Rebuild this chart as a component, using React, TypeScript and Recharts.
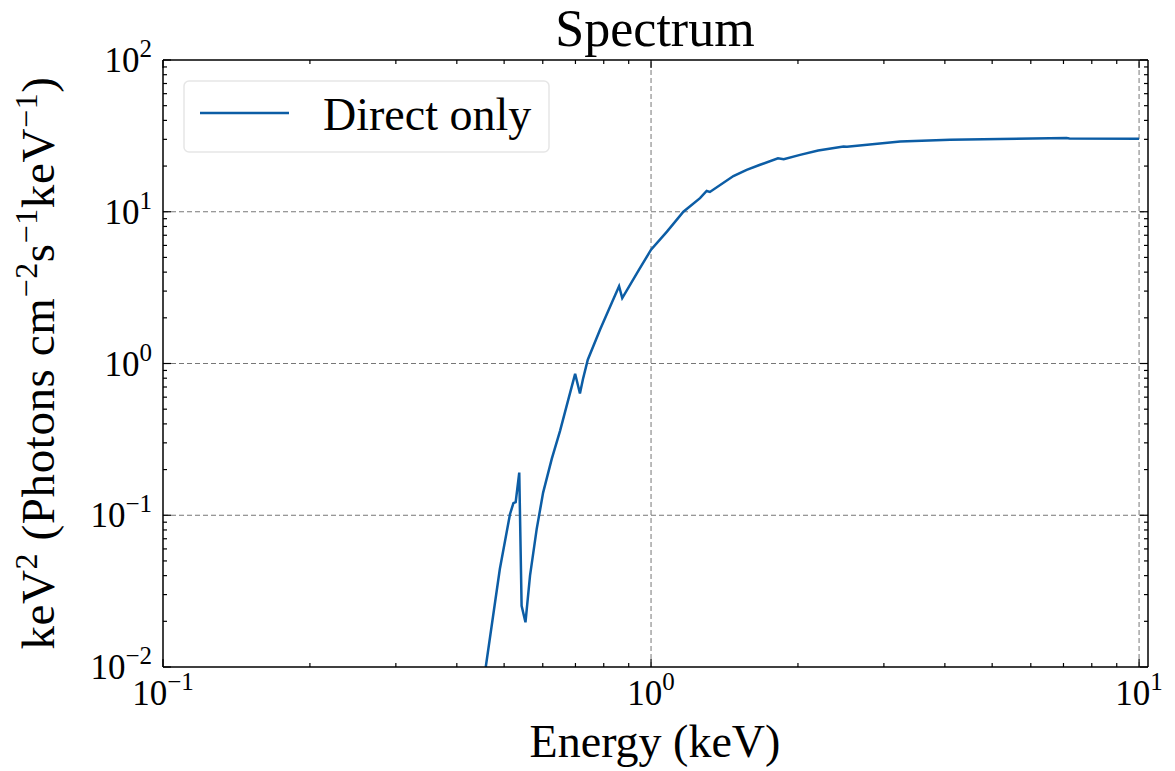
import { LineChart, Line, XAxis, YAxis, ReferenceLine } from "recharts";

// energy (keV) and keV^2 flux
const energies = [
  0.4585, 0.49, 0.514, 0.5224, 0.528, 0.537, 0.543, 0.553, 0.565, 0.583, 0.601, 0.626, 0.651,
  0.677, 0.699, 0.715, 0.725, 0.742, 0.786, 0.831, 0.86, 0.873, 0.945, 1.0, 1.078, 1.165, 1.26,
  1.3, 1.32, 1.475, 1.57, 1.673, 1.82, 1.87, 2.02, 2.2, 2.48, 2.52, 3.24, 4.1, 5.19, 7.1, 7.2,
  10.0,
];
const directOnly = [
  0.01, 0.0442, 0.1016, 0.12, 0.122, 0.191, 0.0253, 0.0197, 0.04, 0.081, 0.141, 0.235, 0.36,
  0.58, 0.855, 0.635, 0.785, 1.06, 1.67, 2.51, 3.23, 2.7, 4.15, 5.62, 7.4, 10.0, 12.3, 13.7,
  13.5, 17.2, 18.9, 20.4, 22.5, 22.2, 23.7, 25.3, 26.9, 26.8, 29.0, 29.8, 30.2, 30.6, 30.4,
  30.3,
];

const X_TICKS = [
  0.1, 0.2, 0.3, 0.4, 0.5, 0.6, 0.7, 0.8, 0.9, 1, 2, 3, 4, 5, 6, 7, 8, 9, 10,
];
const Y_TICKS = [
  0.01, 0.02, 0.03, 0.04, 0.05, 0.06, 0.07, 0.08, 0.09, 0.1, 0.2, 0.3, 0.4, 0.5, 0.6, 0.7, 0.8,
  0.9, 1, 2, 3, 4, 5, 6, 7, 8, 9, 10, 20, 30, 40, 50, 60, 70, 80, 90, 100,
];
const X_GRID = [1, 10];
const Y_GRID = [0.1, 1, 10];
const X_DOMAIN = [0.1, 10.43];
const Y_DOMAIN = [0.01, 100];

const data = energies.map((x, i) => ({ x, y: directOnly[i] }));

const FONT = "'Liberation Serif', 'Times New Roman', serif";
const BLUE = "#0C5DA5";
const W = 1175;
const H = 771;

function expOf(v: number) {
  const e = Math.log10(v);
  const r = Math.round(e);
  return Math.abs(e - r) < 1e-6 ? r : null;
}

function expText(e: number) {
  return e < 0 ? "\u2212" + Math.abs(e) : String(e);
}

function tickMark(props: any, side: "bottom" | "top" | "left" | "right") {
  const { x, y, payload } = props;
  const e = expOf(payload.value);
  const len = e !== null ? 8 : 4;
  let line;
  if (side === "bottom") line = <line x1={x} x2={x} y1={y} y2={y - len} />;
  else if (side === "top") line = <line x1={x} x2={x} y1={y} y2={y + len} />;
  else if (side === "left") line = <line x1={x} x2={x + len} y1={y} y2={y} />;
  else line = <line x1={x} x2={x - len} y1={y} y2={y} />;
  return (
    <g stroke="#000" strokeWidth={1.2}>
      {line}
      {e !== null && side === "bottom" && (
        <text x={x} y={y + 38} textAnchor="middle" fontSize={35} fontFamily={FONT} fill="#000" stroke="none">
          10<tspan dy={-15} fontSize={25}>{expText(e)}</tspan>
        </text>
      )}
      {e !== null && side === "left" && (
        <text x={x - 11} y={y + 12} textAnchor="end" fontSize={35} fontFamily={FONT} fill="#000" stroke="none">
          10<tspan dy={-15} fontSize={25}>{expText(e)}</tspan>
        </text>
      )}
    </g>
  );
}

const axisLine = { stroke: "#000", strokeWidth: 1.5 };

export default function App() {
  return (
    <div style={{ position: "absolute", left: 0, top: 0, width: W, height: H, background: "#fff" }}>
      <LineChart width={W} height={H} data={data} margin={{ top: 59, right: 26, bottom: 103, left: 162 }}>
        <XAxis
          dataKey="x"
          type="number"
          scale="log"
          domain={X_DOMAIN}
          allowDataOverflow
          ticks={X_TICKS}
          interval={0}
          height={1}
          tickSize={0}
          tickMargin={0}
          tickLine={false}
          axisLine={axisLine}
          tick={(p: any) => tickMark(p, "bottom")}
        />
        <XAxis
          xAxisId="top"
          orientation="top"
          dataKey="x"
          type="number"
          scale="log"
          domain={X_DOMAIN}
          allowDataOverflow
          ticks={X_TICKS}
          interval={0}
          height={1}
          tickSize={0}
          tickMargin={0}
          tickLine={false}
          axisLine={axisLine}
          tick={(p: any) => tickMark(p, "top")}
        />
        <YAxis
          type="number"
          scale="log"
          domain={Y_DOMAIN}
          allowDataOverflow
          ticks={Y_TICKS}
          interval={0}
          width={1}
          tickSize={0}
          tickMargin={0}
          tickLine={false}
          axisLine={axisLine}
          tick={(p: any) => tickMark(p, "left")}
        />
        <YAxis
          yAxisId="right"
          orientation="right"
          type="number"
          scale="log"
          domain={Y_DOMAIN}
          allowDataOverflow
          ticks={Y_TICKS}
          interval={0}
          width={1}
          tickSize={0}
          tickMargin={0}
          tickLine={false}
          axisLine={axisLine}
          tick={(p: any) => tickMark(p, "right")}
        />
        {X_GRID.map((v) => (
          <ReferenceLine key={"gx" + v} x={v} stroke="#777" strokeWidth={1} strokeDasharray="5 3" />
        ))}
        {Y_GRID.map((v) => (
          <ReferenceLine key={"gy" + v} y={v} stroke="#777" strokeWidth={1} strokeDasharray="5 3" />
        ))}
        <Line
          type="linear"
          dataKey="y"
          stroke={BLUE}
          strokeWidth={2.5}
          dot={false}
          activeDot={false}
          isAnimationActive={false}
        />
      </LineChart>
      <svg
        width={W}
        height={H}
        style={{ position: "absolute", left: 0, top: 0, pointerEvents: "none" }}
        fontFamily={FONT}
      >
        <text x={655} y={46} textAnchor="middle" fontSize={52}>
          Spectrum
        </text>
        <text x={655} y={757} textAnchor="middle" fontSize={46}>
          Energy (keV)
        </text>
        <text transform="translate(54,363) rotate(-90)" textAnchor="middle" fontSize={47} letterSpacing={0.6}>
          keV<tspan dy={-17} fontSize={32}>2</tspan>
          <tspan dy={17}> (Photons cm</tspan>
          <tspan dy={-17} fontSize={32}>{"\u22122"}</tspan>
          <tspan dy={17}>s</tspan>
          <tspan dy={-17} fontSize={32}>{"\u22121"}</tspan>
          <tspan dy={17}>keV</tspan>
          <tspan dy={-17} fontSize={32}>{"\u22121"}</tspan>
          <tspan dy={17}>)</tspan>
        </text>
        <rect x={184} y={81} width={365} height={71} rx={5} fill="#fff" fillOpacity={0.8} stroke="#e6e6e6" strokeWidth={1.5} />
        <line x1={200} x2={289} y1={113} y2={113} stroke={BLUE} strokeWidth={2.5} />
        <text x={323} y={130} fontSize={46}>
          Direct only
        </text>
      </svg>
    </div>
  );
}
